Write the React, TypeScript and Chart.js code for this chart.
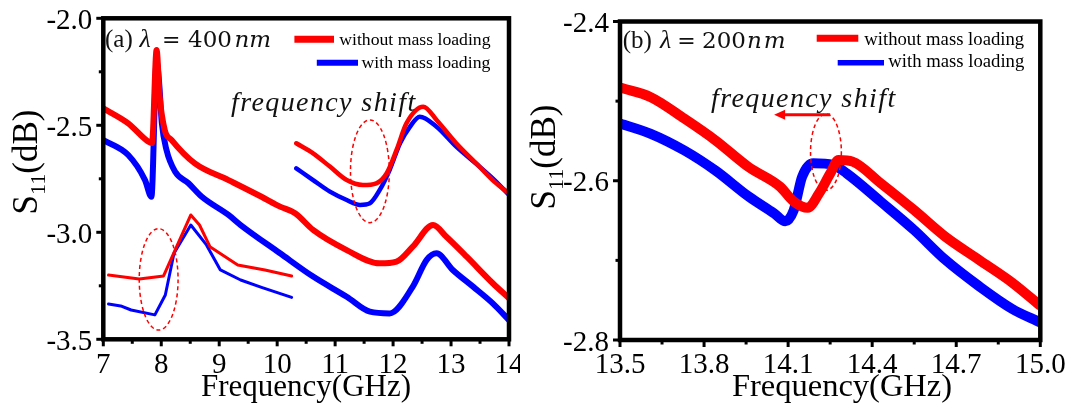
import React, { useEffect, useRef } from 'react';
import { Chart, registerables } from 'chart.js';

Chart.register(...registerables);

const RED = '#ff0000';
const BLUE = '#0000ff';

// ---------- Panel (a): lambda = 400 nm ----------
const A_MAIN_RED_F = [7.0, 7.43, 7.78, 7.84, 7.92, 7.97, 8.06, 8.18, 8.58, 9.16, 9.73, 10.05, 10.31, 10.62, 11.2, 11.77, 12.06, 12.34, 12.69, 12.92, 13.27, 13.72, 14.0];
const A_MAIN_RED_S = [-2.421, -2.491, -2.577, -2.583, -2.148, -2.36, -2.522, -2.569, -2.678, -2.756, -2.834, -2.88, -2.911, -2.989, -3.083, -3.145, -3.137, -3.067, -2.966, -3.021, -3.114, -3.238, -3.308];

const A_MAIN_BLUE_F = [7.0, 7.43, 7.72, 7.83, 7.92, 7.96, 8.01, 8.09, 8.24, 8.47, 8.7, 9.16, 9.37, 10.05, 10.62, 11.2, 11.6, 11.94, 12.34, 12.58, 12.75, 13.03, 13.38, 13.72, 14.0];
const A_MAIN_BLUE_S = [-2.569, -2.639, -2.756, -2.834, -2.203, -2.29, -2.489, -2.615, -2.717, -2.771, -2.834, -2.919, -2.966, -3.098, -3.207, -3.301, -3.371, -3.379, -3.254, -3.129, -3.098, -3.176, -3.254, -3.332, -3.41];

const A_INSET_RED_F = [10.33, 10.62, 10.91, 11.2, 11.48, 11.71, 11.89, 12.06, 12.23, 12.52, 12.75, 13.09, 13.49, 13.75, 14.0];
const A_INSET_RED_S = [-2.584, -2.631, -2.693, -2.756, -2.779, -2.771, -2.724, -2.615, -2.491, -2.413, -2.475, -2.584, -2.693, -2.764, -2.818];

const A_INSET_BLUE_F = [10.33, 10.62, 10.91, 11.2, 11.43, 11.6, 11.77, 11.94, 12.12, 12.29, 12.46, 12.75, 13.09, 13.49, 13.75, 14.0];
const A_INSET_BLUE_S = [-2.701, -2.756, -2.81, -2.849, -2.872, -2.864, -2.802, -2.709, -2.584, -2.507, -2.46, -2.507, -2.6, -2.693, -2.756, -2.825];

const A_THIN_RED_F = [7.09, 7.62, 8.04, 8.51, 8.66, 8.84, 9.32, 9.79, 10.25];
const A_THIN_RED_S = [-3.2, -3.218, -3.204, -2.919, -2.966, -3.067, -3.153, -3.176, -3.204];

const A_THIN_BLUE_F = [7.09, 7.3, 7.48, 7.89, 8.07, 8.22, 8.51, 8.78, 9.02, 9.37, 9.73, 10.25];
const A_THIN_BLUE_S = [-3.335, -3.344, -3.363, -3.386, -3.293, -3.098, -2.966, -3.059, -3.176, -3.223, -3.257, -3.304];

const A_X_MAJOR = [7, 8, 9, 10, 11, 12, 13, 14];
const A_X_MINOR = [7.5, 8.5, 9.5, 10.5, 11.5, 12.5, 13.5];
const A_Y_MAJOR = [-2.0, -2.5, -3.0, -3.5];
const A_Y_MINOR = [-2.25, -2.75, -3.25];
// ellipses: centre x, centre y, radius x, radius y (data units)
const A_ELLIPSES = [
  [7.955, -3.22, 0.335, 0.237],
  [11.6, -2.715, 0.335, 0.24],
];

// ---------- Panel (b): lambda = 200 nm ----------
const B_RED_F = [13.5, 13.61, 13.73, 13.84, 13.96, 14.07, 14.12, 14.17, 14.21, 14.25, 14.28, 14.33, 14.43, 14.55, 14.66, 14.78, 14.9, 15.0];
const B_RED_S = [-2.483, -2.495, -2.522, -2.549, -2.583, -2.607, -2.626, -2.634, -2.616, -2.591, -2.574, -2.576, -2.603, -2.637, -2.67, -2.699, -2.728, -2.757];

const B_BLUE_F = [13.5, 13.61, 13.73, 13.84, 13.96, 14.05, 14.09, 14.12, 14.15, 14.19, 14.26, 14.31, 14.43, 14.55, 14.66, 14.78, 14.9, 15.0];
const B_BLUE_S = [-2.528, -2.541, -2.562, -2.587, -2.62, -2.641, -2.651, -2.637, -2.595, -2.578, -2.58, -2.591, -2.626, -2.662, -2.699, -2.732, -2.761, -2.778];

const B_X_MAJOR = [13.5, 13.8, 14.1, 14.4, 14.7, 15.0];
const B_X_MINOR = [13.65, 13.95, 14.25, 14.55, 14.85];
const B_Y_MAJOR = [-2.4, -2.6, -2.8];
const B_Y_MINOR = [-2.5, -2.7];
const B_ELLIPSES = [[14.235, -2.564, 0.055, 0.048]];
// arrow: from x, to x, at y
const B_ARROW = [14.25, 14.05, -2.517];

const LEGEND_LABELS = ['without mass loading', 'with mass loading'];

const pts = (f: number[], s: number[]) => f.map((x, i) => ({ x, y: s[i] }));

const SERIF = '"Liberation Serif", "Times New Roman", serif';
const MATH = '"DejaVu Serif", serif';

type Piece = { t: string; x: number; font: string; spacing?: number };
type Layout = {
  offsetX: number;
  xMajor: number[];
  xMinor: number[];
  yMajor: number[];
  yMinor: number[];
  xFmt: (v: number) => string;
  xTitleCX: number;
  xTitleFont: string;
  yTitleX: number;
  yTitleCY: number;
  title: Piece[];
  titleBaseline: number;
  legend: { x1: number; x2: number; y: number; w: number; color: string; tx: number; ty: number; font: string; text: string }[];
  fs: { x: number; y: number; font: string; spacing: number };
  ellipses: number[][];
  arrow?: number[];
};

function drawPanel(chart: any, L: Layout) {
  const ctx: CanvasRenderingContext2D = chart.ctx;
  const a = chart.chartArea;
  const xs = chart.scales.x;
  const ys = chart.scales.y;
  const ox = L.offsetX;
  ctx.save();

  // dashed ellipses
  ctx.strokeStyle = RED;
  ctx.lineWidth = 1.5;
  ctx.setLineDash([4, 3]);
  for (const e of L.ellipses) {
    const cx = xs.getPixelForValue(e[0]);
    const cy = ys.getPixelForValue(e[1]);
    const rx = Math.abs(xs.getPixelForValue(e[0] + e[2]) - cx);
    const ry = Math.abs(ys.getPixelForValue(e[1] + e[3]) - cy);
    ctx.beginPath();
    ctx.ellipse(cx, cy, rx, ry, 0, 0, Math.PI * 2);
    ctx.stroke();
  }
  ctx.setLineDash([]);

  // arrow
  if (L.arrow) {
    const x1 = xs.getPixelForValue(L.arrow[0]);
    const x2 = xs.getPixelForValue(L.arrow[1]);
    const y = ys.getPixelForValue(L.arrow[2]);
    ctx.strokeStyle = RED;
    ctx.fillStyle = RED;
    ctx.lineWidth = 3;
    ctx.beginPath();
    ctx.moveTo(x1, y);
    ctx.lineTo(x2 + 8, y);
    ctx.stroke();
    ctx.beginPath();
    ctx.moveTo(x2, y);
    ctx.lineTo(x2 + 11, y - 5);
    ctx.lineTo(x2 + 11, y + 5);
    ctx.closePath();
    ctx.fill();
  }

  // frame
  ctx.strokeStyle = '#000';
  ctx.lineWidth = 4.5;
  ctx.strokeRect(a.left, a.top, a.right - a.left, a.bottom - a.top);

  // ticks
  ctx.lineWidth = 3;
  const tick = (x1: number, y1: number, x2: number, y2: number) => {
    ctx.beginPath();
    ctx.moveTo(x1, y1);
    ctx.lineTo(x2, y2);
    ctx.stroke();
  };
  for (const v of L.xMajor) {
    const x = xs.getPixelForValue(v);
    tick(x, a.bottom, x, a.bottom + 7);
  }
  for (const v of L.xMinor) {
    const x = xs.getPixelForValue(v);
    tick(x, a.bottom, x, a.bottom + 4.5);
  }
  for (const v of L.yMajor) {
    const y = ys.getPixelForValue(v);
    tick(a.left - 7, y, a.left, y);
  }
  for (const v of L.yMinor) {
    const y = ys.getPixelForValue(v);
    tick(a.left - 4.5, y, a.left, y);
  }

  // tick labels
  ctx.fillStyle = '#000';
  ctx.font = '29px ' + SERIF;
  ctx.textBaseline = 'alphabetic';
  ctx.textAlign = 'center';
  for (const v of L.xMajor) {
    ctx.fillText(L.xFmt(v), xs.getPixelForValue(v), 373);
  }
  ctx.textAlign = 'right';
  for (const v of L.yMajor) {
    ctx.fillText(v.toFixed(1), a.left - 11, ys.getPixelForValue(v) + 10.5);
  }

  // x title
  ctx.textAlign = 'center';
  ctx.font = L.xTitleFont;
  ctx.fillText('Frequency(GHz)', L.xTitleCX - ox, 396);

  // y title with subscript
  ctx.save();
  ctx.translate(L.yTitleX - ox, L.yTitleCY);
  ctx.rotate(-Math.PI / 2);
  const big = '35px ' + SERIF;
  const small = '22px ' + SERIF;
  ctx.textAlign = 'left';
  ctx.font = big;
  const wS = ctx.measureText('S').width;
  const wD = ctx.measureText('(dB)').width;
  ctx.font = small;
  const w11 = ctx.measureText('11').width;
  let tx = -(wS + w11 + wD) / 2;
  ctx.font = big;
  ctx.fillText('S', tx, 0);
  tx += wS;
  ctx.font = small;
  ctx.fillText('11', tx, 8);
  tx += w11;
  ctx.font = big;
  ctx.fillText('(dB)', tx, 0);
  ctx.restore();

  // panel title
  ctx.textAlign = 'left';
  ctx.fillStyle = '#111';
  for (const p of L.title) {
    ctx.font = p.font;
    (ctx as any).letterSpacing = (p.spacing || 0) + 'px';
    ctx.fillText(p.t, p.x - ox, L.titleBaseline);
  }
  (ctx as any).letterSpacing = '0px';

  // frequency shift label
  ctx.font = L.fs.font;
  (ctx as any).letterSpacing = L.fs.spacing + 'px';
  ctx.fillText('frequency shift', L.fs.x - ox, L.fs.y);
  (ctx as any).letterSpacing = '0px';

  // legend
  ctx.fillStyle = '#000';
  for (const it of L.legend) {
    ctx.strokeStyle = it.color;
    ctx.lineWidth = it.w;
    ctx.beginPath();
    ctx.moveTo(it.x1 - ox, it.y);
    ctx.lineTo(it.x2 - ox, it.y);
    ctx.stroke();
    ctx.font = it.font;
    ctx.fillText(it.text, it.tx - ox, it.ty);
  }
  ctx.restore();
}

const LAYOUT_A: Layout = {
  offsetX: 0,
  xMajor: A_X_MAJOR,
  xMinor: A_X_MINOR,
  yMajor: A_Y_MAJOR,
  yMinor: A_Y_MINOR,
  xFmt: (v) => String(v),
  xTitleCX: 306,
  xTitleFont: '31px ' + SERIF,
  yTitleX: 37,
  yTitleCY: 162,
  title: [
    { t: '(a)', x: 105, font: '25px ' + SERIF },
    { t: 'λ', x: 139.5, font: 'italic 26px ' + SERIF },
    { t: '=', x: 162, font: '22px ' + MATH },
    { t: '400', x: 188, font: '23px ' + MATH },
    { t: 'nm', x: 234.5, font: 'italic 23px ' + MATH },
  ],
  titleBaseline: 46.7,
  legend: [
    { x1: 294.4, x2: 334, y: 39.3, w: 7, color: RED, tx: 339.2, ty: 45, font: '17.7px ' + SERIF, text: LEGEND_LABELS[0] },
    { x1: 316.8, x2: 358, y: 62.7, w: 6, color: BLUE, tx: 361.6, ty: 68, font: '17.7px ' + SERIF, text: LEGEND_LABELS[1] },
  ],
  fs: { x: 231, y: 111, font: 'italic 28px ' + SERIF, spacing: 1.4 },
  ellipses: A_ELLIPSES,
};

const LAYOUT_B: Layout = {
  offsetX: 520,
  xMajor: B_X_MAJOR,
  xMinor: B_X_MINOR,
  yMajor: B_Y_MAJOR,
  yMinor: B_Y_MINOR,
  xFmt: (v) => v.toFixed(1),
  xTitleCX: 842,
  xTitleFont: '32.5px ' + SERIF,
  yTitleX: 555,
  yTitleCY: 157,
  title: [
    { t: '(b)', x: 622.7, font: '25px ' + SERIF },
    { t: 'λ', x: 660, font: 'italic 26px ' + SERIF },
    { t: '=', x: 677.3, font: '22px ' + MATH },
    { t: '200', x: 702, font: '23px ' + MATH },
    { t: 'nm', x: 747, font: 'italic 23px ' + MATH, spacing: 2 },
  ],
  titleBaseline: 48.3,
  legend: [
    { x1: 816.7, x2: 858.3, y: 38.3, w: 7, color: RED, tx: 864.3, ty: 45, font: '18.7px ' + SERIF, text: LEGEND_LABELS[0] },
    { x1: 837.7, x2: 884, y: 62.7, w: 5.5, color: BLUE, tx: 888.3, ty: 66.7, font: '18.7px ' + SERIF, text: LEGEND_LABELS[1] },
  ],
  fs: { x: 711, y: 107, font: 'italic 28px ' + SERIF, spacing: 1.4 },
  ellipses: B_ELLIPSES,
  arrow: B_ARROW,
};

function line(label: string, data: any[], color: string, width: number, mode: string) {
  return {
    label,
    data,
    borderColor: color,
    backgroundColor: color,
    borderWidth: width,
    pointRadius: 0,
    fill: false,
    tension: mode === 'straight' ? 0 : 0.4,
    cubicInterpolationMode: mode === 'straight' ? 'default' : 'monotone',
    borderCapStyle: 'round',
    borderJoinStyle: 'round',
  };
}

function makeOptions(xMin: number, xMax: number, yMin: number, yMax: number, padding: any, layout: Layout, id: string) {
  return {
    options: {
      responsive: false,
      animation: false,
      events: [],
      layout: { padding },
      plugins: { legend: { display: false }, tooltip: { enabled: false }, title: { display: false } },
      scales: {
        x: { type: 'linear', min: xMin, max: xMax, display: false },
        y: { type: 'linear', min: yMin, max: yMax, display: false },
      },
    },
    plugins: [
      {
        id,
        afterDatasetsDraw(chart: any) {
          drawPanel(chart, layout);
        },
      },
    ],
  };
}

export default function App() {
  const leftRef = useRef<HTMLCanvasElement>(null);
  const rightRef = useRef<HTMLCanvasElement>(null);

  useEffect(() => {
    const la = makeOptions(7, 14, -3.5, -2.0, { left: 103.3, right: 11, top: 18.3, bottom: 68.7 }, LAYOUT_A, 'panelA');
    const left = new Chart(leftRef.current as HTMLCanvasElement, {
      type: 'line',
      data: {
        datasets: [
          line('main without', pts(A_MAIN_RED_F, A_MAIN_RED_S), RED, 6, 'smooth'),
          line('main with', pts(A_MAIN_BLUE_F, A_MAIN_BLUE_S), BLUE, 6, 'smooth'),
          line('inset without', pts(A_INSET_RED_F, A_INSET_RED_S), RED, 4.5, 'smooth'),
          line('inset with', pts(A_INSET_BLUE_F, A_INSET_BLUE_S), BLUE, 4.5, 'smooth'),
          line('zoom without', pts(A_THIN_RED_F, A_THIN_RED_S), RED, 3, 'straight'),
          line('zoom with', pts(A_THIN_BLUE_F, A_THIN_BLUE_S), BLUE, 3, 'straight'),
        ] as any,
      },
      options: la.options as any,
      plugins: la.plugins as any,
    });

    const lb = makeOptions(13.5, 15.0, -2.8, -2.4, { left: 100, right: 34.7, top: 21.5, bottom: 68 }, LAYOUT_B, 'panelB');
    const right = new Chart(rightRef.current as HTMLCanvasElement, {
      type: 'line',
      data: {
        datasets: [
          line('without mass loading', pts(B_RED_F, B_RED_S), RED, 10, 'smooth'),
          line('with mass loading', pts(B_BLUE_F, B_BLUE_S), BLUE, 10, 'smooth'),
        ] as any,
      },
      options: lb.options as any,
      plugins: lb.plugins as any,
    });

    return () => {
      left.destroy();
      right.destroy();
    };
  }, []);

  return (
    <div style={{ position: 'absolute', left: 0, top: 0, width: 1075, height: 408, background: '#fff', overflow: 'hidden' }}>
      <canvas ref={leftRef} width={520} height={408} style={{ position: 'absolute', left: 0, top: 0, width: 520, height: 408 }} />
      <canvas ref={rightRef} width={555} height={408} style={{ position: 'absolute', left: 520, top: 0, width: 555, height: 408 }} />
    </div>
  );
}
